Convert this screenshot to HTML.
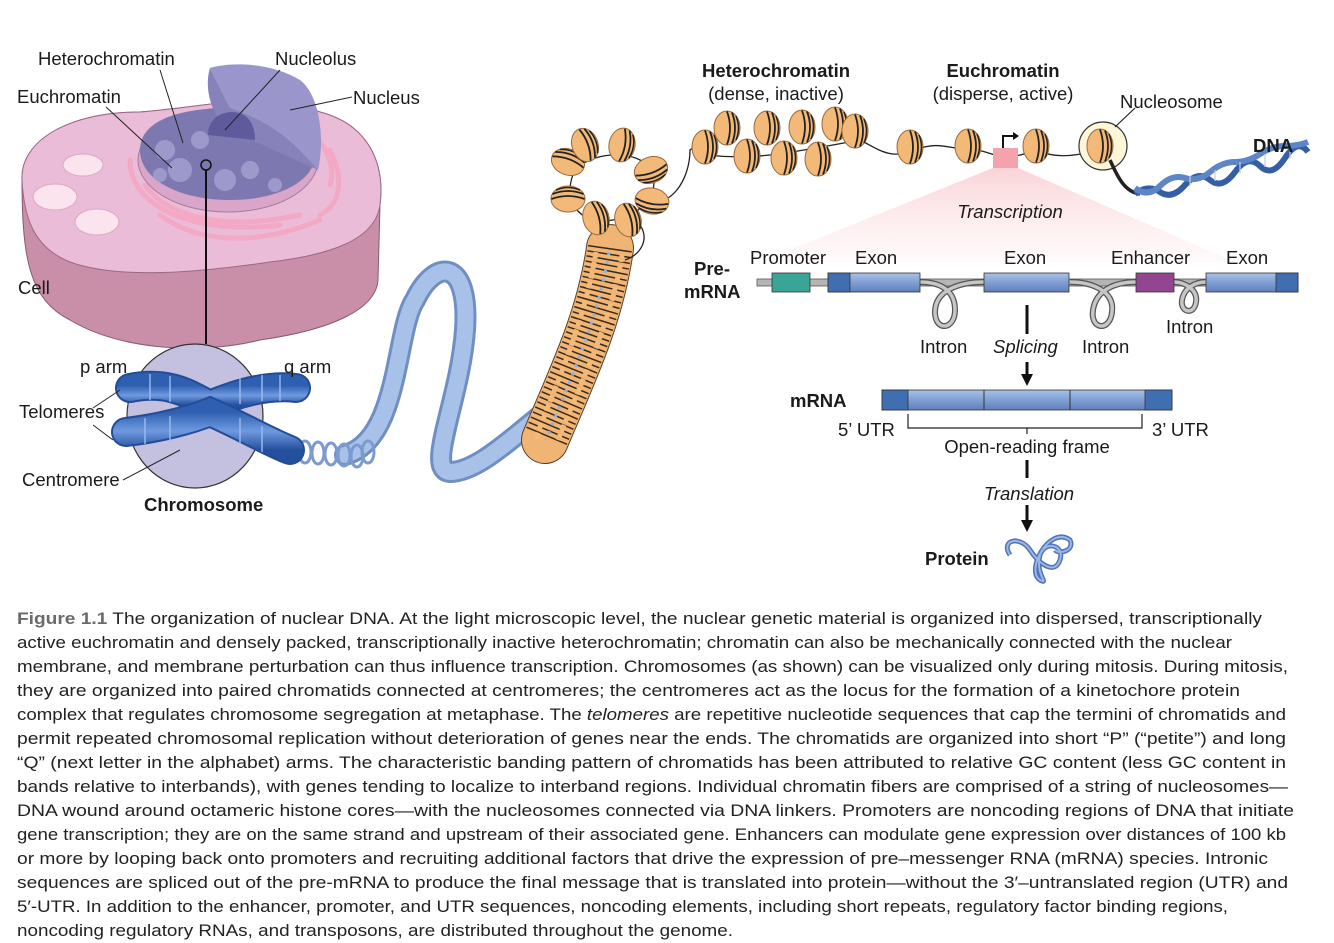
<!DOCTYPE html>
<html><head><meta charset="utf-8"><style>
html,body{margin:0;padding:0;background:#fff;}
svg{display:block;font-family:"Liberation Sans",sans-serif;}
</style></head><body>
<svg width="1334" height="943" viewBox="0 0 1334 943" xmlns="http://www.w3.org/2000/svg">
<defs>
<g id="nuc">
<ellipse cx="0" cy="0" rx="13" ry="17" fill="#f3b978" stroke="#9a6a3a" stroke-width="1"/>
<path d="M0,-16.5 Q6,0 0,16.5" fill="none" stroke="#222" stroke-width="1.8"/>
<path d="M5,-15.5 Q11,0 5,15.5" fill="none" stroke="#222" stroke-width="1.8"/>
<path d="M9,-12 Q14,0 9,12" fill="none" stroke="#222" stroke-width="1.5"/>
</g>
<linearGradient id="tri" x1="0" y1="0" x2="0" y2="1">
<stop offset="0" stop-color="#f7b9bf" stop-opacity="0.9"/>
<stop offset="1" stop-color="#fde6e8" stop-opacity="0.3"/>
</linearGradient>
<linearGradient id="exon" x1="0" y1="0" x2="0" y2="1">
<stop offset="0" stop-color="#a9c1e6"/><stop offset="0.5" stop-color="#7f9fd3"/><stop offset="1" stop-color="#5f80bb"/>
</linearGradient>
<linearGradient id="chr" x1="0" y1="0" x2="0" y2="1">
<stop offset="0" stop-color="#2f5fb0"/><stop offset="0.5" stop-color="#6f9ae0"/><stop offset="1" stop-color="#244f9c"/>
</linearGradient>
</defs>

<!-- Cell -->
<path d="M22,180 C20,140 70,112 140,112 C200,108 260,90 320,112 C370,125 385,165 380,205 L378,280 C376,310 330,330 260,340 C200,355 120,350 70,320 C30,300 22,260 22,180 Z" fill="#c98ea8" stroke="#8a5a72" stroke-width="1"/>
<path d="M22,180 C20,140 70,112 140,112 C200,108 260,90 320,112 C370,125 385,165 380,205 C375,240 330,255 270,262 C200,272 120,280 70,262 C35,248 24,220 22,180 Z" fill="#ebbcd7" stroke="#9a6a84" stroke-width="1"/>
<ellipse cx="83" cy="165" rx="20" ry="11" fill="#fbe4ee" stroke="#d9a9c3"/>
<ellipse cx="55" cy="197" rx="22" ry="13" fill="#fbe4ee" stroke="#d9a9c3"/>
<ellipse cx="97" cy="222" rx="22" ry="13" fill="#fbe4ee" stroke="#d9a9c3"/>
<g fill="none" stroke="#f3a9c3" stroke-width="5" stroke-linecap="round">
<path d="M130,160 C130,210 200,235 280,225"/>
<path d="M145,185 C170,220 230,230 300,215"/>
<path d="M160,215 C200,245 260,245 320,220"/>
<path d="M330,150 C345,180 340,205 320,215"/>
<path d="M310,130 C330,150 335,170 330,185"/>
</g>
<ellipse cx="228" cy="160" rx="90" ry="52" fill="#d9a5c8" stroke="#a57aa0"/>
<path d="M140,150 C140,120 180,108 230,108 C280,108 315,125 315,155 C315,180 280,200 230,200 C180,200 140,180 140,150 Z" fill="#7d79b0"/>
<g fill="#a6a3d2" opacity="0.8">
<circle cx="165" cy="150" r="10"/><circle cx="180" cy="170" r="12"/><circle cx="200" cy="140" r="9"/><circle cx="225" cy="180" r="11"/><circle cx="250" cy="170" r="9"/><circle cx="275" cy="185" r="7"/><circle cx="160" cy="175" r="7"/>
</g>
<path d="M230,108 L210,68 C230,62 270,62 300,80 C320,95 325,140 318,170 L230,108 Z" fill="#9a96cb"/>
<path d="M210,68 C206,80 205,110 230,130 L318,170 C300,150 280,125 230,108 Z" fill="#8783ba"/>
<path d="M208,135 C208,118 222,112 232,112 C246,112 255,122 255,140 Z" fill="#5f5a9c"/>
<circle cx="206" cy="165" r="5" fill="none" stroke="#111" stroke-width="1.5"/>
<line x1="206" y1="170" x2="206" y2="344" stroke="#111" stroke-width="2"/>

<!-- Chromosome circle -->
<ellipse cx="195" cy="416" rx="68" ry="72" fill="#c4c1e0" stroke="#333" stroke-width="1.2"/>
<!-- blue fiber tube -->
<path d="M345,455 C400,440 395,330 415,300 C435,258 470,258 465,330 C460,400 425,470 450,472 C480,472 520,430 560,400" fill="none" stroke="#6f8fc4" stroke-width="22" stroke-linecap="round"/>
<path d="M345,455 C400,440 395,330 415,300 C435,258 470,258 465,330 C460,400 425,470 450,472 C480,472 520,430 560,400" fill="none" stroke="#a8c1e8" stroke-width="16" stroke-linecap="round"/>
<!-- coil -->
<g fill="none" stroke="#7c9ad0" stroke-width="3">
<ellipse cx="305" cy="452" rx="6" ry="11"/><ellipse cx="318" cy="453" rx="6" ry="11"/><ellipse cx="331" cy="454" rx="6" ry="11"/><ellipse cx="344" cy="455" rx="6" ry="11"/><ellipse cx="357" cy="456" rx="6" ry="11"/><ellipse cx="368" cy="452" rx="6" ry="11"/>
</g>
<!-- chromosome -->
<path d="M130,388 C170,380 190,395 210,405 C240,392 270,385 296,388" fill="none" stroke="#234c98" stroke-width="30" stroke-linecap="round"/>
<path d="M130,388 C170,380 190,395 210,405 C240,392 270,385 296,388" fill="none" stroke="url(#chr)" stroke-width="26" stroke-linecap="round"/>
<path d="M126,432 C160,428 190,420 210,412 C240,425 265,440 290,450" fill="none" stroke="#234c98" stroke-width="30" stroke-linecap="round"/>
<path d="M126,432 C160,428 190,420 210,412 C240,425 265,440 290,450" fill="none" stroke="url(#chr)" stroke-width="26" stroke-linecap="round"/>
<g stroke="#9bbdf0" stroke-width="2" opacity="0.7">
<line x1="150" y1="374" x2="150" y2="400"/><line x1="170" y1="376" x2="170" y2="402"/><line x1="240" y1="378" x2="240" y2="404"/><line x1="262" y1="375" x2="262" y2="401"/><line x1="280" y1="375" x2="280" y2="401"/>
<line x1="145" y1="418" x2="145" y2="444"/><line x1="170" y1="416" x2="170" y2="442"/><line x1="240" y1="418" x2="240" y2="444"/><line x1="262" y1="426" x2="262" y2="452"/>
</g>
<!-- fiber of nucleosomes -->
<path d="M610,248 C600,320 570,380 545,440" fill="none" stroke="#5a4028" stroke-width="48" stroke-linecap="round"/>
<path d="M610,248 C600,320 570,380 545,440" fill="none" stroke="#f0b474" stroke-width="46" stroke-linecap="round"/>
<path d="M610,248 C600,320 570,380 545,440" fill="none" stroke="#3a2a1a" stroke-width="44" stroke-dasharray="1.5 4"/>
<path d="M596,252 C585,320 558,380 535,440" fill="none" stroke="#f3b978" stroke-width="5" stroke-dasharray="7 3"/>
<path d="M622,255 C612,320 582,380 558,440" fill="none" stroke="#f3b978" stroke-width="5" stroke-dasharray="7 3"/>
<path d="M609,252 C598,320 570,380 546,440" fill="none" stroke="#8fb0dd" stroke-width="3" stroke-dasharray="3 6"/>
<!-- ring of nucleosomes -->
<path d="M575,170 C560,200 580,235 630,215 C660,200 660,170 640,160 C620,150 590,155 575,170 M645,200 C670,210 690,180 690,150 L710,135" fill="none" stroke="#222" stroke-width="1.3"/>
<path d="M640,225 C650,240 640,255 625,260" fill="none" stroke="#222" stroke-width="1.3"/>
<use href="#nuc" transform="translate(568,162) rotate(-70)"/>
<use href="#nuc" transform="translate(585,145) rotate(-20)"/>
<use href="#nuc" transform="translate(622,145) rotate(10)"/>
<use href="#nuc" transform="translate(651,170) rotate(70)"/>
<use href="#nuc" transform="translate(652,201) rotate(100)"/>
<use href="#nuc" transform="translate(568,199) rotate(-90)"/>
<use href="#nuc" transform="translate(596,218) rotate(-15)"/>
<use href="#nuc" transform="translate(628,220) rotate(-15)"/>
<!-- top chain -->
<path d="M708,155 C750,160 780,155 860,140 C880,150 890,160 915,150 C940,140 950,150 975,150 C990,150 1000,165 1035,150 C1060,160 1075,155 1105,150" fill="none" stroke="#222" stroke-width="1.3"/>
<use href="#nuc" transform="translate(705,147)"/>
<use href="#nuc" transform="translate(727,128)"/>
<use href="#nuc" transform="translate(747,156)"/>
<use href="#nuc" transform="translate(767,128)"/>
<use href="#nuc" transform="translate(784,158)"/>
<use href="#nuc" transform="translate(802,127)"/>
<use href="#nuc" transform="translate(818,159)"/>
<use href="#nuc" transform="translate(835,124)"/>
<use href="#nuc" transform="translate(855,131)"/>
<use href="#nuc" transform="translate(910,147)"/>
<use href="#nuc" transform="translate(968,146)"/>
<use href="#nuc" transform="translate(1036,146)"/>
<circle cx="1103" cy="146" r="24" fill="#fdf6d8" stroke="#333" stroke-width="1.2"/>
<use href="#nuc" transform="translate(1100,146)"/>
<line x1="1115" y1="127" x2="1135" y2="108" stroke="#222" stroke-width="1.2"/>
<!-- promoter arrow -->
<path d="M1003,148 L1003,136 L1014,136" fill="none" stroke="#111" stroke-width="2"/>
<path d="M1013,132 L1019,136 L1013,140 Z" fill="#111"/>
<!-- DNA helix -->
<path d="M1110,160 C1118,178 1125,192 1140,194" fill="none" stroke="#222" stroke-width="3.5"/>
<path d="M1135,194 Q1148,184 1160,192 T1185,185 T1210,180 T1235,172 T1260,166 T1285,158 T1308,152" fill="none" stroke="#345ea5" stroke-width="6"/>
<path d="M1135,188 Q1148,198 1160,186 T1185,178 T1210,172 T1235,162 T1260,154 T1285,146 T1308,142" fill="none" stroke="#5c86c8" stroke-width="6"/>
<g stroke="#ccd" stroke-width="1.2">
<line x1="1190" y1="176" x2="1190" y2="186"/><line x1="1215" y1="170" x2="1215" y2="181"/><line x1="1240" y1="162" x2="1240" y2="174"/><line x1="1265" y1="154" x2="1265" y2="167"/><line x1="1290" y1="146" x2="1290" y2="159"/>
</g>
<!-- transcription triangle -->
<path d="M993,168 L1018,168 L1235,262 L760,262 Z" fill="url(#tri)" opacity="0.7"/>
<rect x="993" y="148" width="25" height="20" fill="#f4a2ab"/>
<!-- pre-mRNA -->
<rect x="757" y="279" width="541" height="7" fill="#b5b5b5" stroke="#555" stroke-width="0.8"/>
<g fill="none" stroke="#555" stroke-width="6">
<path d="M920,282 C940,282 955,290 955,310 C955,330 935,332 935,312 C935,290 960,282 984,282"/>
<path d="M1070,282 C1090,282 1115,290 1112,312 C1110,332 1090,330 1093,310 C1096,290 1115,282 1136,282"/>
<path d="M1174,282 C1185,282 1198,290 1196,302 C1194,316 1180,312 1182,300 C1184,288 1195,282 1206,282"/>
</g>
<g fill="none" stroke="#c6c6c6" stroke-width="3.5">
<path d="M920,282 C940,282 955,290 955,310 C955,330 935,332 935,312 C935,290 960,282 984,282"/>
<path d="M1070,282 C1090,282 1115,290 1112,312 C1110,332 1090,330 1093,310 C1096,290 1115,282 1136,282"/>
<path d="M1174,282 C1185,282 1198,290 1196,302 C1194,316 1180,312 1182,300 C1184,288 1195,282 1206,282"/>
</g>
<rect x="772" y="273" width="38" height="19" fill="#3aa597" stroke="#333" stroke-width="0.8"/>
<rect x="828" y="273" width="92" height="19" fill="url(#exon)" stroke="#333" stroke-width="0.8"/>
<rect x="828" y="273" width="22" height="19" fill="#3f6fb0" stroke="#333" stroke-width="0.8"/>
<rect x="984" y="273" width="85" height="19" fill="url(#exon)" stroke="#333" stroke-width="0.8"/>
<rect x="1136" y="273" width="38" height="19" fill="#93468f" stroke="#333" stroke-width="0.8"/>
<rect x="1206" y="273" width="92" height="19" fill="url(#exon)" stroke="#333" stroke-width="0.8"/>
<rect x="1276" y="273" width="22" height="19" fill="#3f6fb0" stroke="#333" stroke-width="0.8"/>
<!-- splicing arrow -->
<line x1="1027" y1="305" x2="1027" y2="334" stroke="#111" stroke-width="3"/>
<line x1="1027" y1="362" x2="1027" y2="376" stroke="#111" stroke-width="3"/>
<path d="M1021,374 L1033,374 L1027,386 Z" fill="#111"/>
<!-- mRNA -->
<rect x="882" y="390" width="290" height="20" fill="url(#exon)" stroke="#333" stroke-width="0.8"/>
<rect x="882" y="390" width="26" height="20" fill="#3f6fb0" stroke="#333" stroke-width="0.8"/>
<rect x="1145" y="390" width="27" height="20" fill="#3f6fb0" stroke="#333" stroke-width="0.8"/>
<line x1="984" y1="390" x2="984" y2="410" stroke="#333"/><line x1="1070" y1="390" x2="1070" y2="410" stroke="#333"/>
<path d="M908,414 L908,428 L1142,428 L1142,414 M1027,428 L1027,434" fill="none" stroke="#222" stroke-width="1.2"/>
<line x1="1027" y1="460" x2="1027" y2="478" stroke="#111" stroke-width="3"/>
<line x1="1027" y1="505" x2="1027" y2="522" stroke="#111" stroke-width="3"/>
<path d="M1021,520 L1033,520 L1027,532 Z" fill="#111"/>
<!-- protein -->
<path d="M1010,555 C1000,540 1020,535 1030,550 C1040,565 1055,575 1060,560 C1065,545 1045,540 1040,555 C1035,575 1050,585 1040,580 C1025,570 1050,525 1070,540 C1075,550 1060,555 1055,550" fill="none" stroke="#4f74b8" stroke-width="5"/>
<path d="M1010,555 C1000,540 1020,535 1030,550 C1040,565 1055,575 1060,560 C1065,545 1045,540 1040,555 C1035,575 1050,585 1040,580 C1025,570 1050,525 1070,540 C1075,550 1060,555 1055,550" fill="none" stroke="#9bb6e6" stroke-width="2"/>

<!-- leader lines -->
<g stroke="#222" stroke-width="1" fill="none">
<line x1="160" y1="70" x2="183" y2="143"/>
<line x1="106" y1="107" x2="172" y2="168"/>
<line x1="280" y1="70" x2="225" y2="130"/>
<line x1="352" y1="97" x2="290" y2="110"/>
<line x1="93" y1="408" x2="120" y2="390"/>
<line x1="93" y1="425" x2="113" y2="440"/>
<line x1="123" y1="480" x2="180" y2="450"/>
</g>

<!-- labels -->
<g font-size="18.5" fill="#1a1a1a">
<text x="38" y="65">Heterochromatin</text>
<text x="275" y="65">Nucleolus</text>
<text x="17" y="103">Euchromatin</text>
<text x="353" y="104">Nucleus</text>
<text x="18" y="294">Cell</text>
<text x="80" y="373">p arm</text>
<text x="284" y="373">q arm</text>
<text x="19" y="418">Telomeres</text>
<text x="22" y="486">Centromere</text>
<text x="144" y="511" font-weight="bold">Chromosome</text>
<text x="776" y="77" font-weight="bold" text-anchor="middle">Heterochromatin</text>
<text x="776" y="100" text-anchor="middle">(dense, inactive)</text>
<text x="1003" y="77" font-weight="bold" text-anchor="middle">Euchromatin</text>
<text x="1003" y="100" text-anchor="middle">(disperse, active)</text>
<text x="1120" y="108">Nucleosome</text>
<text x="1253" y="152" font-weight="bold">DNA</text>
<text x="1010" y="218" font-style="italic" text-anchor="middle">Transcription</text>
<text x="750" y="264">Promoter</text>
<text x="855" y="264">Exon</text>
<text x="1004" y="264">Exon</text>
<text x="1111" y="264">Enhancer</text>
<text x="1226" y="264">Exon</text>
<text x="694" y="275" font-weight="bold">Pre-</text>
<text x="684" y="298" font-weight="bold">mRNA</text>
<text x="1166" y="333">Intron</text>
<text x="920" y="353">Intron</text>
<text x="993" y="353" font-style="italic">Splicing</text>
<text x="1082" y="353">Intron</text>
<text x="790" y="407" font-weight="bold">mRNA</text>
<text x="838" y="436">5’ UTR</text>
<text x="1152" y="436">3’ UTR</text>
<text x="1027" y="453" text-anchor="middle">Open-reading frame</text>
<text x="1029" y="500" font-style="italic" text-anchor="middle">Translation</text>
<text x="925" y="565" font-weight="bold">Protein</text>
</g>

<!-- caption -->
<g font-size="17" fill="#222">
<text x="17" y="624" textLength="1245" lengthAdjust="spacingAndGlyphs"><tspan fill="#6a6a6a" font-weight="bold">Figure 1.1</tspan> The organization of nuclear DNA. At the light microscopic level, the nuclear genetic material is organized into dispersed, transcriptionally</text>
<text x="17" y="648" textLength="1215" lengthAdjust="spacingAndGlyphs">active euchromatin and densely packed, transcriptionally inactive heterochromatin; chromatin can also be mechanically connected with the nuclear</text>
<text x="17" y="672" textLength="1271" lengthAdjust="spacingAndGlyphs">membrane, and membrane perturbation can thus influence transcription. Chromosomes (as shown) can be visualized only during mitosis. During mitosis,</text>
<text x="17" y="696" textLength="1223" lengthAdjust="spacingAndGlyphs">they are organized into paired chromatids connected at centromeres; the centromeres act as the locus for the formation of a kinetochore protein</text>
<text x="17" y="720" textLength="1269" lengthAdjust="spacingAndGlyphs">complex that regulates chromosome segregation at metaphase. The <tspan font-style="italic">telomeres</tspan> are repetitive nucleotide sequences that cap the termini of chromatids and</text>
<text x="17" y="744" textLength="1269" lengthAdjust="spacingAndGlyphs">permit repeated chromosomal replication without deterioration of genes near the ends. The chromatids are organized into short “P” (“petite”) and long</text>
<text x="17" y="768" textLength="1269" lengthAdjust="spacingAndGlyphs">“Q” (next letter in the alphabet) arms. The characteristic banding pattern of chromatids has been attributed to relative GC content (less GC content in</text>
<text x="17" y="792" textLength="1271" lengthAdjust="spacingAndGlyphs">bands relative to interbands), with genes tending to localize to interband regions. Individual chromatin fibers are comprised of a string of nucleosomes—</text>
<text x="17" y="816" textLength="1277" lengthAdjust="spacingAndGlyphs">DNA wound around octameric histone cores—with the nucleosomes connected via DNA linkers. Promoters are noncoding regions of DNA that initiate</text>
<text x="17" y="840" textLength="1269" lengthAdjust="spacingAndGlyphs">gene transcription; they are on the same strand and upstream of their associated gene. Enhancers can modulate gene expression over distances of 100 kb</text>
<text x="17" y="864" textLength="1251" lengthAdjust="spacingAndGlyphs">or more by looping back onto promoters and recruiting additional factors that drive the expression of pre–messenger RNA (mRNA) species. Intronic</text>
<text x="17" y="888" textLength="1271" lengthAdjust="spacingAndGlyphs">sequences are spliced out of the pre-mRNA to produce the final message that is translated into protein—without the 3′–untranslated region (UTR) and</text>
<text x="17" y="912" textLength="1211" lengthAdjust="spacingAndGlyphs">5′-UTR. In addition to the enhancer, promoter, and UTR sequences, noncoding elements, including short repeats, regulatory factor binding regions,</text>
<text x="17" y="936" textLength="716" lengthAdjust="spacingAndGlyphs">noncoding regulatory RNAs, and transposons, are distributed throughout the genome.</text>
</g>
</svg>
</body></html>
